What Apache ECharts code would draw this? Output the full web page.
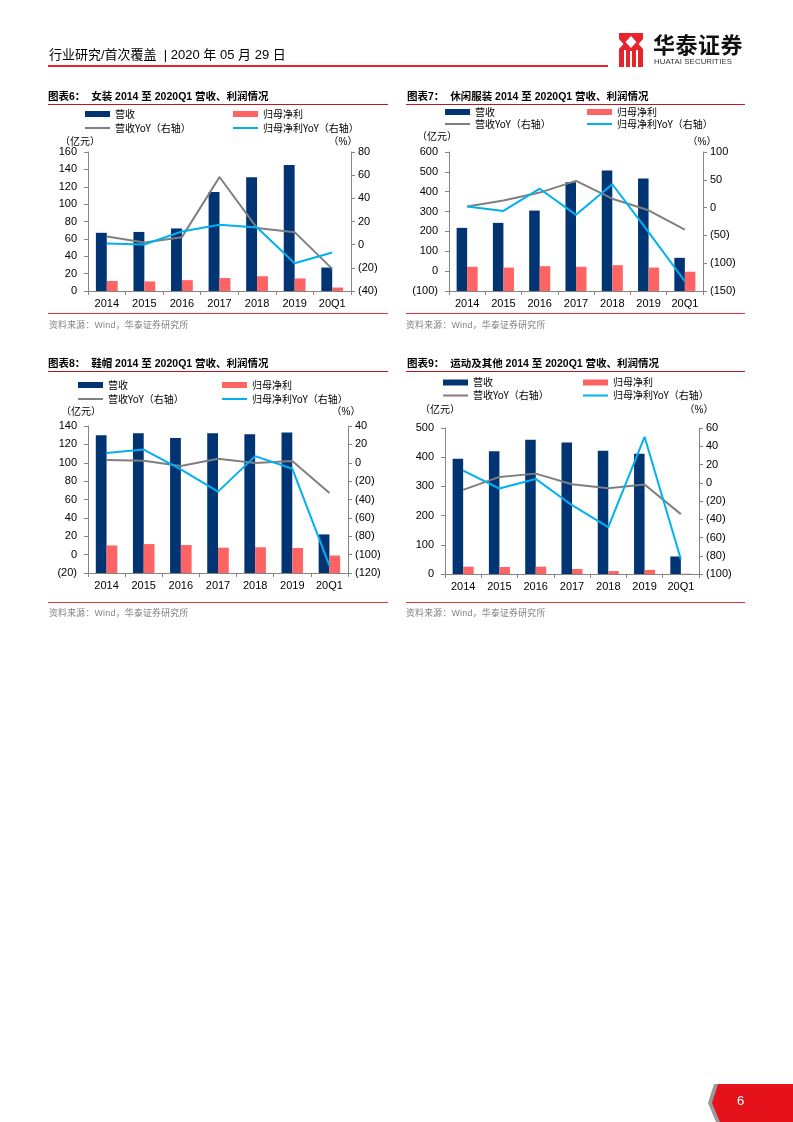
<!DOCTYPE html>
<html>
<head>
<meta charset="utf-8">
<script src="https://cdn.jsdelivr.net/npm/echarts@6/dist/echarts.min.js"></script>
<style>
html,body{margin:0;padding:0;background:#fff;}
body{width:793px;height:1122px;position:relative;overflow:hidden;font-family:"Liberation Sans","Noto Sans CJK SC",sans-serif;}
#chart{position:absolute;left:0;top:0;width:793px;height:1122px;}
.t{position:absolute;white-space:nowrap;line-height:1;}
.hl{position:absolute;height:1px;}
.title{font-size:10.5px;font-weight:bold;color:#000;}
.src{font-size:8.8px;color:#7f7f7f;letter-spacing:0.3px;}
.unit{font-size:10px;color:#000;transform:translate(-50%,-50%);}
</style>
</head>
<body>
<div id="chart"></div>

<!-- header -->
<div class="t" style="left:49px;top:48px;font-size:13px;color:#000;">行业研究/首次覆盖&nbsp;&nbsp;| 2020 年 05 月 29 日</div>
<div class="hl" style="left:48px;top:65px;width:560px;height:2px;background:#E5242B;"></div>
<svg style="position:absolute;left:619px;top:33px;" width="24" height="34" viewBox="0 0 24 34">
  <rect x="0" y="0" width="24" height="34" fill="#E5242B"/>
  <polygon points="12,3 17.5,9 12,15 6.5,9" fill="#fff"/>
  <polygon points="0,6 4.5,11 0,16" fill="#fff"/>
  <polygon points="24,6 19.5,11 24,16" fill="#fff"/>
  <rect x="5" y="17" width="2" height="17" fill="#fff"/>
  <rect x="11" y="18" width="2" height="16" fill="#fff"/>
  <rect x="17" y="17" width="2" height="17" fill="#fff"/>
</svg>
<div class="t" style="left:653px;top:32px;font-size:22px;font-weight:bold;color:#111;font-family:'Noto Sans CJK SC';letter-spacing:0.5px;">华泰证券</div>
<div class="t" style="left:654px;top:58px;font-size:7.8px;color:#333;font-family:'Liberation Sans';letter-spacing:0.1px;">HUATAI SECURITIES</div>

<!-- chart 6 -->
<div class="t title" style="left:48px;top:91px;">图表6：&nbsp;&nbsp;女装 2014 至 2020Q1 营收、利润情况</div>
<div class="hl" style="left:48px;top:104px;width:340px;background:#C0161D;"></div>
<div class="t unit" style="left:80px;top:142px;">（亿元）</div>
<div class="t unit" style="left:343px;top:142px;">（%）</div>
<div class="hl" style="left:48px;top:313px;width:340px;background:#E53030;"></div>
<div class="t src" style="left:49px;top:321px;">资料来源：Wind，华泰证券研究所</div>

<!-- chart 7 -->
<div class="t title" style="left:407px;top:91px;">图表7：&nbsp;&nbsp;休闲服装 2014 至 2020Q1 营收、利润情况</div>
<div class="hl" style="left:406px;top:104px;width:339px;background:#C0161D;"></div>
<div class="t unit" style="left:437px;top:137px;">（亿元）</div>
<div class="t unit" style="left:702px;top:142px;">（%）</div>
<div class="hl" style="left:406px;top:313px;width:339px;background:#E53030;"></div>
<div class="t src" style="left:406px;top:321px;">资料来源：Wind，华泰证券研究所</div>

<!-- chart 8 -->
<div class="t title" style="left:48px;top:358px;">图表8：&nbsp;&nbsp;鞋帽 2014 至 2020Q1 营收、利润情况</div>
<div class="hl" style="left:48px;top:371px;width:340px;background:#C0161D;"></div>
<div class="t unit" style="left:81px;top:412px;">（亿元）</div>
<div class="t unit" style="left:346px;top:412px;">（%）</div>
<div class="hl" style="left:48px;top:602px;width:340px;background:#E53030;"></div>
<div class="t src" style="left:49px;top:609px;">资料来源：Wind，华泰证券研究所</div>

<!-- chart 9 -->
<div class="t title" style="left:407px;top:358px;">图表9：&nbsp;&nbsp;运动及其他 2014 至 2020Q1 营收、利润情况</div>
<div class="hl" style="left:406px;top:371px;width:339px;background:#C0161D;"></div>
<div class="t unit" style="left:440px;top:410px;">（亿元）</div>
<div class="t unit" style="left:699px;top:410px;">（%）</div>
<div class="hl" style="left:406px;top:602px;width:339px;background:#E53030;"></div>
<div class="t src" style="left:406px;top:609px;">资料来源：Wind，华泰证券研究所</div>

<!-- footer page tab -->
<svg style="position:absolute;left:700px;top:1082px;" width="93" height="40" viewBox="0 0 93 40">
  <polygon points="14,2 93,2 93,40 16,40 8,21" fill="#9a9a9a"/>
  <polygon points="18,2 93,2 93,40 20,40 12,21" fill="#E5121B"/>
</svg>
<div class="t" style="left:737px;top:1094px;font-size:13px;color:#fff;">6</div>

<script>
// ---------------- data ----------------
const categories = ['2014', '2015', '2016', '2017', '2018', '2019', '20Q1'];
const legendNames = ['营收', '归母净利', '营收YoY（右轴）', '归母净利YoY（右轴）'];

// 图表6 女装
const womenRevenue    = [67, 68, 72, 114, 131, 145, 27];
const womenProfit     = [11.5, 11, 12.5, 15, 17, 14.5, 4];
const womenRevenueYoY = [7.1, 1.9, 6.5, 58.4, 14.3, 10.8, -20.9];
const womenProfitYoY  = [1.0, 0.2, 11.4, 17.2, 14.9, -16.0, -6.7];

// 图表7 休闲服装
const casualRevenue    = [218, 243, 305, 448, 507, 466, 67];
const casualProfit     = [22, 18, 25, 22, 30, 18, -3];
const casualRevenueYoY = [1.8, 12.6, 27, 48, 16, -4.8, -39.6];
const casualProfitYoY  = [1.8, -6, 34, -13, 42, -44, -132.5];

// 图表8 鞋帽
const shoesRevenue    = [130, 132, 127, 132, 131, 133, 22];
const shoesProfit     = [10, 11.5, 10.5, 7.6, 8, 7.2, -1];
const shoesRevenueYoY = [3, 2.2, -3.6, 4.3, -0.4, 1.8, -33];
const shoesProfitYoY  = [10.5, 14.4, -7.2, -31.4, 7.2, -6.5, -112];

// 图表9 运动及其他
const sportsRevenue    = [395, 420, 460, 450, 422, 412, 60];
const sportsProfit     = [25, 24, 25, 17, 10, 14, 1];
const sportsRevenueYoY = [-7.8, 6.4, 10, -1.6, -6, -2, -34.4];
const sportsProfitYoY  = [13.3, -6.3, 4.2, -24.6, -48.7, 50.4, -83.8];

// axis ranges [min, max, interval]
const womenLeftAxis  = [0, 160, 20],   womenRightAxis  = [-40, 80, 20];
const casualLeftAxis = [-100, 600, 100], casualRightAxis = [-150, 100, 50];
const shoesLeftAxis  = [-20, 140, 20], shoesRightAxis  = [-120, 40, 20];
const sportsLeftAxis = [0, 500, 100],  sportsRightAxis = [-100, 60, 20];

// ---------------- styling / layout ----------------
const NAVY = '#003473', RED = '#FF6464', GREY = '#7F7F7F', BLUE = '#00B0F0', AX = '#858585';
const NUMFONT = 'Liberation Sans';
const CJKFONT = 'Noto Sans CJK SC';
const LINE_ICON = 'path://M0,0H100V8H0Z';
const fmt = v => v < 0 ? '(' + (-v) + ')' : String(v);

const panels = [
  {grid: {left: 88, top: 152, width: 263, height: 139}, L: womenLeftAxis, R: womenRightAxis,
   d: [womenRevenue, womenProfit, womenRevenueYoY, womenProfitYoY], legL: [85, 107], legR: [233, 107], lh: 14},
  {grid: {left: 449, top: 152, width: 254, height: 139}, L: casualLeftAxis, R: casualRightAxis,
   d: [casualRevenue, casualProfit, casualRevenueYoY, casualProfitYoY], legL: [445, 106], legR: [587, 106], lh: 12},
  {grid: {left: 88, top: 426, width: 260, height: 147}, L: shoesLeftAxis, R: shoesRightAxis,
   d: [shoesRevenue, shoesProfit, shoesRevenueYoY, shoesProfitYoY], legL: [78, 378], legR: [222, 378], lh: 14},
  {grid: {left: 445, top: 428, width: 254, height: 146}, L: sportsLeftAxis, R: sportsRightAxis,
   d: [sportsRevenue, sportsProfit, sportsRevenueYoY, sportsProfitYoY], legL: [443, 376], legR: [583, 376], lh: 13}
];

const option = {animation: false, grid: [], xAxis: [], yAxis: [], series: [], legend: []};

panels.forEach((p, i) => {
  option.grid.push(Object.assign({containLabel: false}, p.grid));
  option.xAxis.push({
    gridIndex: i, type: 'category', data: categories, boundaryGap: true,
    axisLine: {show: true, onZero: false, lineStyle: {color: AX, width: 1}},
    axisTick: {show: true, alignWithLabel: false, length: 4, lineStyle: {color: AX}},
    axisLabel: {color: '#000', fontSize: 11, fontFamily: NUMFONT, margin: 7, interval: 0},
    splitLine: {show: false}
  });
  const yBase = {
    gridIndex: i, type: 'value', splitLine: {show: false},
    axisLine: {show: true, lineStyle: {color: AX, width: 1}},
    axisTick: {show: true, length: 4, lineStyle: {color: AX}},
  };
  option.yAxis.push(Object.assign({}, yBase, {
    position: 'left', min: p.L[0], max: p.L[1], interval: p.L[2], startValue: p.L[0],
    axisLabel: {formatter: fmt, color: '#000', fontSize: 11, fontFamily: NUMFONT, margin: 11}
  }));
  option.yAxis.push(Object.assign({}, yBase, {
    position: 'right', min: p.R[0], max: p.R[1], interval: p.R[2],
    axisLabel: {formatter: fmt, color: '#000', fontSize: 11, fontFamily: NUMFONT, margin: 7}
  }));
  option.series.push(
    {name: legendNames[0], type: 'bar', xAxisIndex: i, yAxisIndex: 2 * i, data: p.d[0],
     barWidth: '29%', barGap: '0%', itemStyle: {color: NAVY}, z: 2},
    {name: legendNames[1], type: 'bar', xAxisIndex: i, yAxisIndex: 2 * i, data: p.d[1],
     barWidth: '29%', barGap: '0%', itemStyle: {color: RED}, z: 2},
    {name: legendNames[2], type: 'line', xAxisIndex: i, yAxisIndex: 2 * i + 1, data: p.d[2],
     symbol: 'none', lineStyle: {color: GREY, width: 2}, itemStyle: {color: GREY}, z: 5},
    {name: legendNames[3], type: 'line', xAxisIndex: i, yAxisIndex: 2 * i + 1, data: p.d[3],
     symbol: 'none', lineStyle: {color: BLUE, width: 2}, itemStyle: {color: BLUE}, z: 6}
  );
  const legBase = {
    orient: 'vertical', itemGap: 0, itemWidth: 25, itemHeight: 6, selectedMode: false, padding: 0,
    symbolKeepAspect: true,
    textStyle: {fontSize: 10, lineHeight: p.lh, color: '#000', fontFamily: CJKFONT}
  };
  option.legend.push(Object.assign({}, legBase, {
    left: p.legL[0], top: p.legL[1],
    data: [{name: legendNames[0], icon: 'rect'}, {name: legendNames[2], icon: LINE_ICON, itemStyle: {color: GREY}}]
  }));
  option.legend.push(Object.assign({}, legBase, {
    left: p.legR[0], top: p.legR[1],
    data: [{name: legendNames[1], icon: 'rect'}, {name: legendNames[3], icon: LINE_ICON, itemStyle: {color: BLUE}}]
  }));
});

const chart = echarts.init(document.getElementById('chart'));
chart.setOption(option);
</script>
</body>
</html>
